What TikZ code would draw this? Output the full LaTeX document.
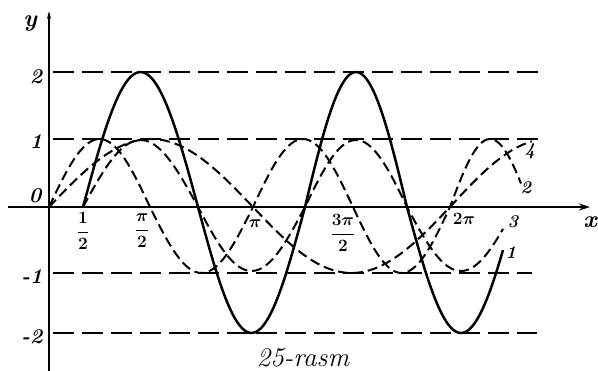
\documentclass[tikz,border=0pt]{standalone}
\usetikzlibrary{arrows.meta}
\begin{document}
\begin{tikzpicture}[x=1pt,y=-1pt,
  axis/.style={line width=2pt},
  gridline/.style={line width=1.8pt, dash pattern=on 21pt off 8pt},
  solidcurve/.style={line width=2.5pt, line join=round},
  dashcurve/.style={line width=2pt, dash pattern=on 10pt off 5pt},
  lab/.style={inner sep=0pt, font=\fontsize{21}{21}\selectfont\bfseries\itshape\boldmath},
  fraclab/.style={inner sep=0pt, font=\fontsize{18}{18}\selectfont\bfseries\itshape\boldmath},
  caplab/.style={inner sep=0pt, font=\fontsize{27}{27}\selectfont\itshape}]
\useasboundingbox (0,0) rectangle (598,371);

% axes
\coordinate (xs) at (8,207);
\coordinate (xe) at (590,207);
\coordinate (ys) at (49,371);
\coordinate (ye) at (49,11);
\draw[axis,-{Stealth[length=11pt,width=7pt]}] (xs) -- (xe);
\draw[axis,-{Stealth[length=8pt,width=4pt]}] (ys) -- (ye);

% horizontal dashed levels
\coordinate (h2a) at (53,72);  \coordinate (h2b) at (538,72);
\coordinate (h1a) at (53,139); \coordinate (h1b) at (540,139);
\coordinate (hm1a) at (53,273); \coordinate (hm1b) at (532,273);
\coordinate (hm2a) at (53,333); \coordinate (hm2b) at (537,333);
\draw[gridline] (h2a) -- (h2b);
\draw[gridline] (h1a) -- (h1b);
\draw[gridline] (hm1a) -- (hm1b);
\draw[gridline] (hm2a) -- (hm2b);

% curve 1 (solid)
\draw[solidcurve]
  plot[domain=83:198,samples=40,smooth] (\x,{207-135*sin((\x-83)/115*180)})
  -- plot[domain=198:305,samples=40,smooth] (\x,{207+126*sin((\x-198)/107*180)})
  -- plot[domain=305:407,samples=40,smooth] (\x,{207-135*sin((\x-305)/102*180)})
  -- plot[domain=407:503,samples=40,smooth] (\x,{207+126*sin((\x-407)/108*180)});

% curve 3 (dashed, same zeros as curve 1)
\draw[dashcurve]
  plot[domain=83:198,samples=40,smooth] (\x,{207-67*sin((\x-83)/115*180)})
  -- plot[domain=198:305,samples=40,smooth] (\x,{207+64*sin((\x-198)/107*180)})
  -- plot[domain=305:407,samples=40,smooth] (\x,{207-67*sin((\x-305)/102*180)})
  -- plot[domain=407:503,samples=40,smooth] (\x,{207+64*sin((\x-407)/108*180)});

% curve 4 (dashed)
\draw[dashcurve]
  plot[domain=49:253,samples=50,smooth] (\x,{207-68*sin((\x-49)/204*180)})
  -- plot[domain=253:450,samples=50,smooth] (\x,{207+66*sin((\x-253)/197*180)})
  -- plot[domain=450:532,samples=30,smooth] (\x,{207-68*sin((\x-450)/197*180)});

% curve 2 (dashed)
\draw[dashcurve]
  plot[domain=49:150,samples=40,smooth] (\x,{207-68*sin((\x-49)/101*180)})
  -- plot[domain=150:253,samples=40,smooth] (\x,{207+66*sin((\x-150)/103*180)})
  -- plot[domain=253:353,samples=40,smooth] (\x,{207-68*sin((\x-253)/100*180)})
  -- plot[domain=353:450,samples=40,smooth] (\x,{207+66*sin((\x-353)/97*180)})
  -- plot[domain=450:521,samples=30,smooth] (\x,{207-68*sin((\x-450)/80*180)});

% axis labels
\node[lab, font=\fontsize{24}{24}\selectfont\bfseries\itshape] (ly) at (30,24) {y};
\node[lab, font=\fontsize{24}{24}\selectfont\bfseries\itshape] (lx) at (590,222) {x};
\node[lab] (l2) at (36,77) {2};
\node[lab] (l1) at (36,142) {1};
\node[lab] (l0) at (35,196) {0};
\node[lab] (lm1) at (32,277) {-1};
\node[lab] (lm2) at (32,337) {-2};

% x tick labels
\node[fraclab] (lhalf) at (83,231) {$\displaystyle\frac{1}{2}$};
\node[fraclab] (lpih) at (142,231) {$\displaystyle\frac{\pi}{2}$};
\node[fraclab] (lpi) at (255,224) {$\pi$};
\node[fraclab] (l3pih) at (343,233) {$\displaystyle\frac{3\pi}{2}$};
\node[fraclab] (l2pi) at (464,219) {$2\pi$};

% curve labels
\node[fraclab] (c4) at (530,151) {4};
\node[fraclab] (c2) at (526,188) {2};
\node[fraclab] (c3) at (513,222) {3};
\node[fraclab] (c1) at (511,253) {1};

% caption
\node[caplab] (cap) at (303,358) {25-rasm};
\end{tikzpicture}
\end{document}
